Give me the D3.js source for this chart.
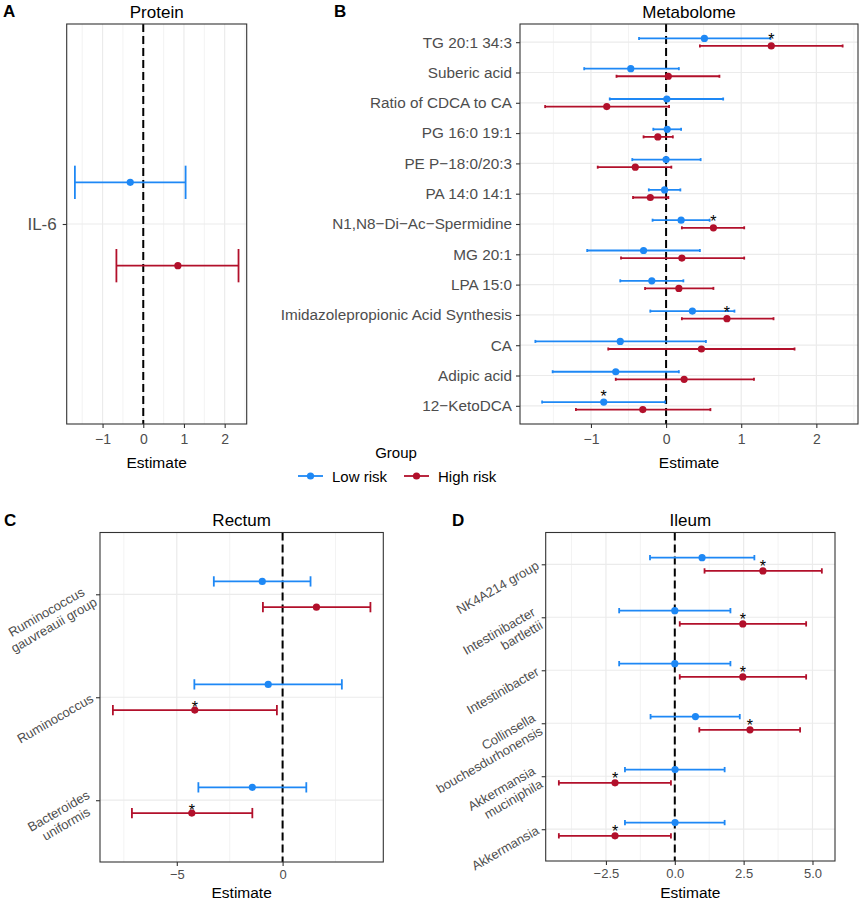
<!DOCTYPE html>
<html>
<head>
<meta charset="utf-8">
<script src="https://cdn.jsdelivr.net/npm/d3@7"></script>
<style>
  body { margin: 0; background: #fff; }
  svg text { font-family: "Liberation Sans", Arial, Helvetica, sans-serif; }
</style>
</head>
<body>
<svg id="fig" width="861" height="900"></svg>
<script>
const lowColor = "#1E88F5";
const highColor = "#B2102B";
const groups = ["Low risk", "High risk"];

// [estimate, lower, upper]
const proteinNames = ["IL-6"];
const proteinLow = [[-0.32, -1.68, 1.04]];
const proteinHigh = [[0.85, -0.66, 2.34]];
const proteinSig = [null];
const proteinTicks = [-1, 0, 1, 2];

const metaboliteNames = [
  "TG 20:1 34:3", "Suberic acid", "Ratio of CDCA to CA", "PG 16:0 19:1",
  "PE P\u221218:0/20:3", "PA 14:0 14:1", "N1,N8\u2212Di\u2212Ac\u2212Spermidine", "MG 20:1",
  "LPA 15:0", "Imidazolepropionic Acid Synthesis", "CA", "Adipic acid", "12\u2212KetoDCA"
];
const metaboliteLow = [
  [0.51, -0.36, 1.39], [-0.47, -1.09, 0.17], [0.01, -0.75, 0.76], [0.015, -0.17, 0.20],
  [0.00, -0.45, 0.46], [-0.02, -0.23, 0.19], [0.20, -0.18, 0.58], [-0.30, -1.05, 0.45],
  [-0.19, -0.61, 0.23], [0.35, -0.21, 0.91], [-0.61, -1.74, 0.53], [-0.67, -1.51, 0.17],
  [-0.83, -1.65, -0.015]
];
const metaboliteHigh = [
  [1.40, 0.45, 2.35], [0.03, -0.66, 0.71], [-0.79, -1.61, 0.04], [-0.11, -0.30, 0.09],
  [-0.41, -0.91, 0.07], [-0.21, -0.44, 0.03], [0.63, 0.21, 1.04], [0.21, -0.60, 1.04],
  [0.17, -0.28, 0.63], [0.81, 0.21, 1.43], [0.47, -0.77, 1.71], [0.24, -0.67, 1.17],
  [-0.31, -1.20, 0.59]
];
const metaboliteSig = ["High risk", null, null, null, null, null, "High risk", null, null, "High risk", null, null, "Low risk"];
const metaboliteTicks = [-1, 0, 1, 2];

const rectumNames = ["Ruminococcus\ngauvreauii group", "Ruminococcus", "Bacteroides\nuniformis"];
const rectumLow = [[-0.96, -3.25, 1.32], [-0.68, -4.17, 2.80], [-1.43, -3.98, 1.12]];
const rectumHigh = [[1.60, -0.93, 4.15], [-4.15, -8.02, -0.27], [-4.29, -7.12, -1.43]];
const rectumSig = [null, "High risk", "High risk"];
const rectumTicks = [-5, 0];

const ileumNames = [
  "NK4A214 group", "Intestinibacter\nbartlettii", "Intestinibacter",
  "Collinsella\nbouchesdurhonensis", "Akkermansia\nmuciniphila", "Akkermansia"
];
const ileumLow = [
  [0.99, -0.90, 2.89], [0.00, -2.02, 2.02], [0.00, -2.02, 2.02],
  [0.75, -0.88, 2.36], [0.01, -1.81, 1.81], [0.01, -1.81, 1.81]
];
const ileumHigh = [
  [3.20, 1.08, 5.34], [2.47, 0.18, 4.77], [2.47, 0.18, 4.77],
  [2.73, 0.89, 4.55], [-2.17, -4.21, -0.14], [-2.17, -4.21, -0.14]
];
const ileumSig = ["High risk", "High risk", "High risk", "High risk", "High risk", "High risk"];
const ileumTicks = [-2.5, 0, 2.5, 5];

const svg = d3.select("#fig");
const color = d3.scaleOrdinal().domain(groups).range([lowColor, highColor]);

function drawPanel(cfg) {
  const g = svg.append("g");

  const bounds = cfg.low.concat(cfg.high).flatMap(d => [d[1], d[2]]);
  const lo = d3.min(bounds), hi = d3.max(bounds);
  const pad = (hi - lo) * 0.05;

  const x = d3.scaleLinear()
    .domain([lo - pad, hi + pad])
    .range([cfg.left, cfg.right]);

  const y = d3.scalePoint()
    .domain(cfg.names)
    .range([cfg.top, cfg.bottom])
    .padding(0.6);

  const step = y.step();
  const dodge = d3.scaleOrdinal().domain(groups).range([-0.125 * step, 0.125 * step]);

  // grid: minor halfway between majors
  const tickStep = cfg.ticks[1] - cfg.ticks[0];
  const minor = d3.range(cfg.ticks[0] - tickStep / 2, hi + pad, tickStep)
    .filter(v => v > lo - pad && v < hi + pad);

  g.selectAll(".minor").data(minor).enter().append("line")
    .attr("x1", d => x(d)).attr("x2", d => x(d))
    .attr("y1", cfg.top).attr("y2", cfg.bottom)
    .attr("stroke", "#EBEBEB").attr("stroke-width", 0.6);

  g.selectAll(".major").data(cfg.ticks).enter().append("line")
    .attr("x1", d => x(d)).attr("x2", d => x(d))
    .attr("y1", cfg.top).attr("y2", cfg.bottom)
    .attr("stroke", "#EBEBEB").attr("stroke-width", 1.2);

  g.selectAll(".hgrid").data(cfg.names).enter().append("line")
    .attr("x1", cfg.left).attr("x2", cfg.right)
    .attr("y1", d => y(d)).attr("y2", d => y(d))
    .attr("stroke", "#EBEBEB").attr("stroke-width", 1.2);

  g.append("line")
    .attr("x1", x(0)).attr("x2", x(0))
    .attr("y1", cfg.top).attr("y2", cfg.bottom)
    .attr("stroke", "#000").attr("stroke-width", 2)
    .attr("stroke-dasharray", "8,4");

  const rows = [];
  cfg.names.forEach((name, i) => {
    rows.push({ name, group: "Low risk", v: cfg.low[i], sig: cfg.sig[i] === "Low risk" });
    rows.push({ name, group: "High risk", v: cfg.high[i], sig: cfg.sig[i] === "High risk" });
  });

  const cap = 0.05 * step;
  const yy = d => y(d.name) + dodge(d.group);

  g.selectAll(".bar").data(rows).enter().append("line")
    .attr("x1", d => x(d.v[1])).attr("x2", d => x(d.v[2]))
    .attr("y1", yy).attr("y2", yy)
    .attr("stroke", d => color(d.group)).attr("stroke-width", 1.8);

  ["lo", "hi"].forEach((side, k) => {
    g.selectAll(".cap-" + side).data(rows).enter().append("line")
      .attr("x1", d => x(d.v[k + 1])).attr("x2", d => x(d.v[k + 1]))
      .attr("y1", d => yy(d) - cap).attr("y2", d => yy(d) + cap)
      .attr("stroke", d => color(d.group)).attr("stroke-width", 1.8);
  });

  g.selectAll(".pt").data(rows).enter().append("circle")
    .attr("cx", d => x(d.v[0])).attr("cy", yy)
    .attr("r", 3.6)
    .attr("fill", d => color(d.group));

  g.selectAll(".star").data(rows.filter(d => d.sig)).enter().append("text")
    .attr("x", d => x(d.v[0]))
    .attr("y", d => yy(d) - cfg.starOffset + 9.5)
    .attr("text-anchor", "middle")
    .style("font-size", "16px")
    .attr("fill", "#000")
    .text("*");

  // x axis
  const xAxis = g.append("g")
    .attr("transform", `translate(0,${cfg.bottom})`)
    .call(d3.axisBottom(x).tickValues(cfg.ticks).tickSize(4).tickPadding(cfg.tickPad).tickFormat(cfg.fmt));
  xAxis.select(".domain").remove();
  xAxis.selectAll("line").attr("stroke", "#333").attr("stroke-width", 1.1);
  xAxis.selectAll("text").attr("fill", "#4D4D4D").style("font-size", cfg.tickFont + "px").style("font-family", null);

  // y axis
  const yAxis = g.append("g")
    .attr("transform", `translate(${cfg.left},0)`)
    .call(d3.axisLeft(y).tickSize(4).tickPadding(cfg.yPad || 4));
  yAxis.select(".domain").remove();
  yAxis.selectAll("line").attr("stroke", "#333").attr("stroke-width", 1.1);

  if (cfg.rotate) {
    yAxis.selectAll("text").remove();
    const lh = cfg.labelFont * 1.15;
    cfg.names.forEach(name => {
      const lines = name.split("\n");
      const lg = g.append("g")
        .attr("transform", `translate(${cfg.left - cfg.labelGap},${y(name)}) rotate(-30)`);
      const texts = lines.map((line, i) => lg.append("text")
        .attr("y", (i - (lines.length - 1) / 2) * lh + cfg.labelFont * 0.35)
        .attr("fill", "#4D4D4D")
        .style("font-size", cfg.labelFont + "px")
        .text(line));
      if (cfg.rotate === "center") {
        const w = d3.max(texts, t => t.node().getComputedTextLength());
        texts.forEach(t => t.attr("text-anchor", "middle").attr("x", -w / 2));
      } else {
        texts.forEach(t => t.attr("text-anchor", "end").attr("x", 0));
      }
    });
  } else {
    yAxis.selectAll("text")
      .attr("fill", "#4D4D4D")
      .style("font-size", cfg.labelFont + "px")
      .style("font-family", null);
  }

  g.append("rect")
    .attr("x", cfg.left).attr("y", cfg.top)
    .attr("width", cfg.right - cfg.left).attr("height", cfg.bottom - cfg.top)
    .attr("fill", "none").attr("stroke", "#333").attr("stroke-width", 1.1);

  g.append("text")
    .attr("x", (cfg.left + cfg.right) / 2).attr("y", cfg.top - 6.5)
    .attr("text-anchor", "middle")
    .style("font-size", "17px")
    .text(cfg.title);

  g.append("text")
    .attr("x", (cfg.left + cfg.right) / 2).attr("y", cfg.xTitleY)
    .attr("text-anchor", "middle")
    .style("font-size", "15.5px")
    .text("Estimate");

  g.append("text")
    .attr("x", cfg.letterX).attr("y", cfg.top - 7)
    .style("font-size", "17px").style("font-weight", "bold")
    .text(cfg.letter);
}

drawPanel({
  letter: "A", letterX: 3, title: "Protein",
  names: proteinNames, low: proteinLow, high: proteinHigh, sig: proteinSig, ticks: proteinTicks,
  fmt: d3.format(""), left: 66.7, right: 246.7, top: 24, bottom: 424,
  tickPad: 6, tickFont: 14, labelFont: 17, yPad: 6, xTitleY: 468, starOffset: 9
});

drawPanel({
  letter: "B", letterX: 334, title: "Metabolome",
  names: metaboliteNames, low: metaboliteLow, high: metaboliteHigh, sig: metaboliteSig, ticks: metaboliteTicks,
  fmt: d3.format(""), left: 520, right: 858, top: 24, bottom: 424,
  tickPad: 6, tickFont: 14, labelFont: 15.3, xTitleY: 468, starOffset: 10
});

drawPanel({
  letter: "C", letterX: 4, title: "Rectum",
  names: rectumNames, low: rectumLow, high: rectumHigh, sig: rectumSig, ticks: rectumTicks,
  fmt: d3.format(""), left: 100, right: 383.3, top: 532.5, bottom: 862,
  tickPad: 4, tickFont: 13, labelFont: 13, rotate: "center", labelGap: 8, xTitleY: 897.5, starOffset: 7
});

drawPanel({
  letter: "D", letterX: 452, title: "Ileum",
  names: ileumNames, low: ileumLow, high: ileumHigh, sig: ileumSig, ticks: ileumTicks,
  fmt: d3.format(".1f"), left: 545.7, right: 835, top: 532.5, bottom: 861,
  tickPad: 4, tickFont: 13, labelFont: 13, rotate: "end", labelGap: 8, xTitleY: 897.5, starOffset: 8
});

// legend for Group
const legend = svg.append("g");
legend.append("text")
  .attr("x", 396).attr("y", 458)
  .attr("text-anchor", "middle")
  .style("font-size", "15px")
  .text("Group");

const keyX = d3.scaleOrdinal().domain(groups).range([298, 404]);
groups.forEach(grp => {
  const k = legend.append("g").attr("transform", `translate(${keyX(grp)},476)`);
  k.append("line").attr("x1", 0).attr("x2", 25).attr("stroke", color(grp)).attr("stroke-width", 1.8);
  k.append("circle").attr("cx", 12.5).attr("r", 3.6).attr("fill", color(grp));
  k.append("text").attr("x", 34).attr("y", 5.5).style("font-size", "15px").text(grp);
});
</script>
</body>
</html>
